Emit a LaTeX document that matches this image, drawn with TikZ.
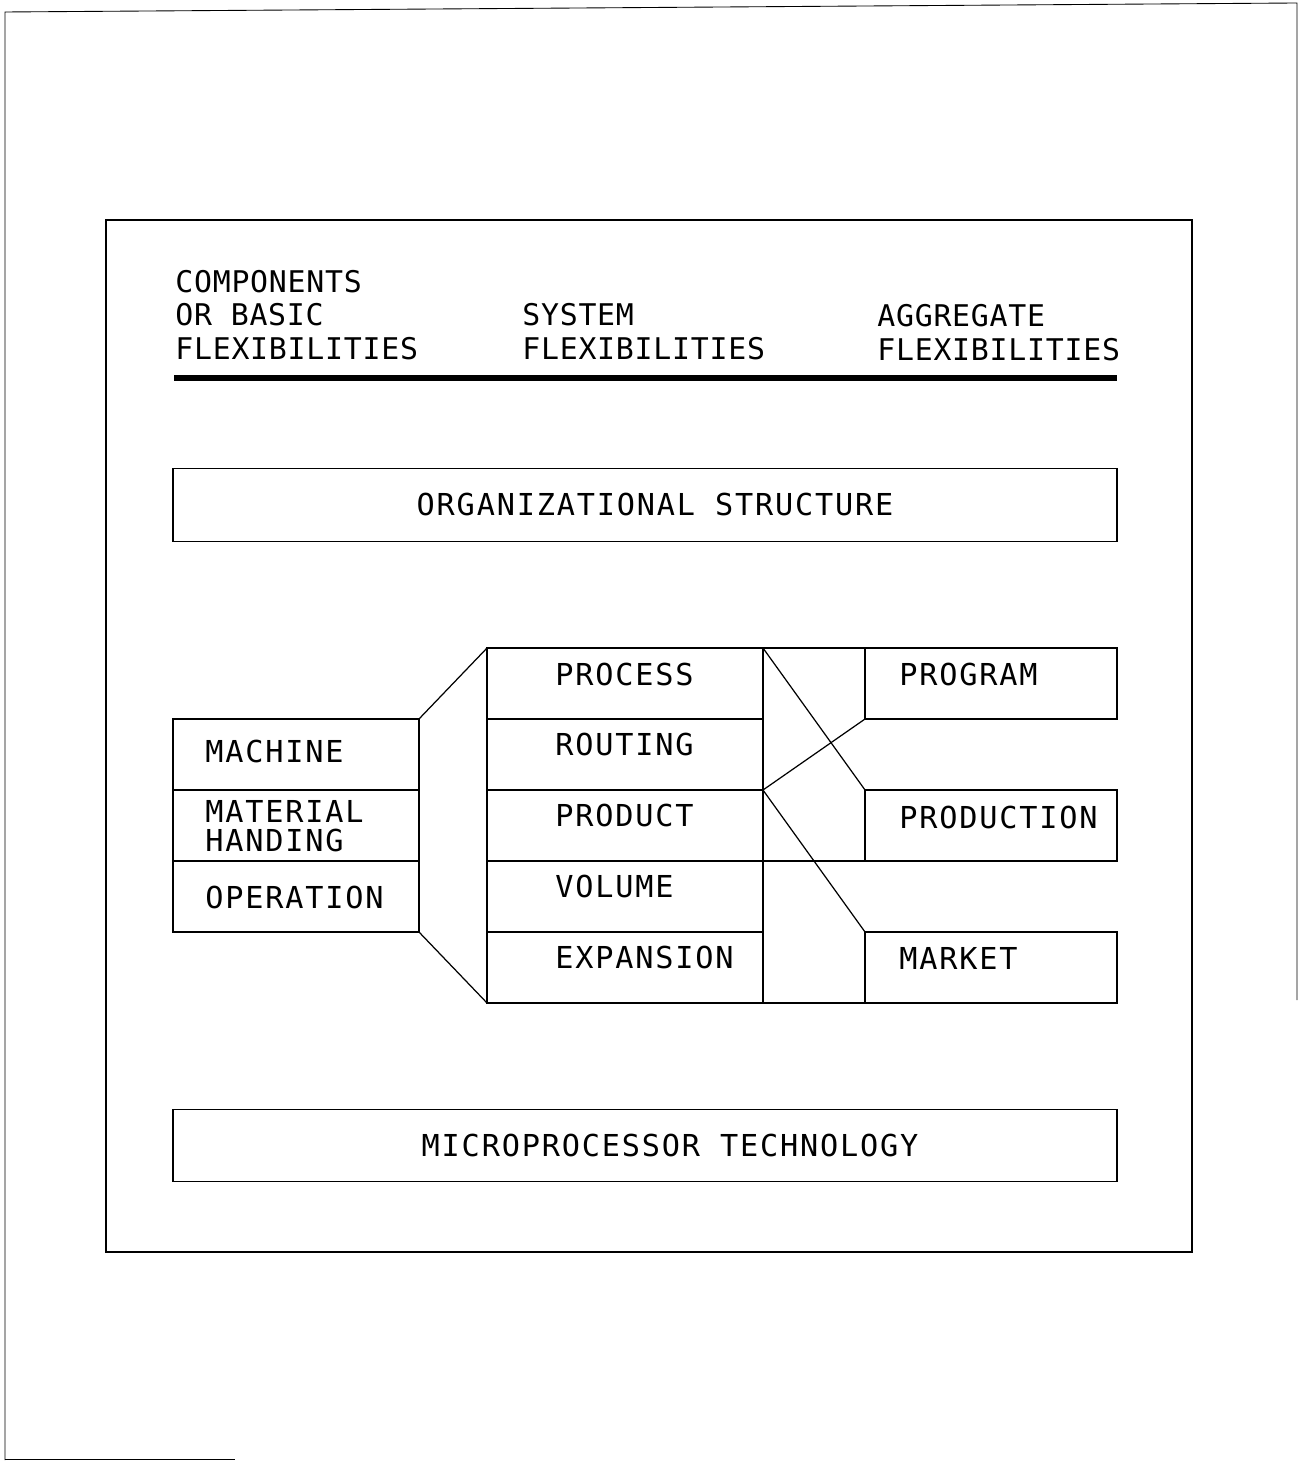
\documentclass[tikz,border=0pt]{standalone}
\usepackage{fontspec}
\newfontfamily\plotfont[LetterSpace=6]{DejaVu Sans Mono}
\newfontfamily\headfont[LetterSpace=2.5]{DejaVu Sans Mono}

\begin{document}
\begin{tikzpicture}[x=0.02cm,y=-0.02cm,
  every node/.style={font=\plotfont\fontsize{17.2}{19.1}\selectfont},
  col/.style={draw,line width=0.7pt,inner sep=0pt,outer sep=0pt,minimum height=1.42cm},
  lbox/.style={col,minimum width=4.92cm},
  mbox/.style={col,minimum width=5.52cm},
  rbox/.style={col,minimum width=5.04cm},
  bar/.style={col,minimum width=18.88cm,minimum height=1.45cm},
  lab/.style={anchor=west,inner sep=0pt,align=left},
  head/.style={anchor=south west,inner sep=0pt,align=left,
    font=\headfont\fontsize{17}{19.1}\selectfont},
  lnk/.style={line width=0.7pt}]

  \useasboundingbox (0,0) rectangle (1300,1462);

  % Sheet edges and frame
  \draw[line width=0.5pt] (5,1460) -- (5,12) -- (1297,3) -- (1297,1000);
  \draw[line width=0.5pt] (5,1459) -- (235,1459);
  \draw[line width=1.1pt] (106,220) rectangle (1192,1252);

  % Header
  \node[head] (hbasic) at (175,360) {COMPONENTS\\OR BASIC\\FLEXIBILITIES};
  \node[head] (hsystem) at (522,360) {SYSTEM\\FLEXIBILITIES};
  \node[head] (haggr) at (877,361) {AGGREGATE\\FLEXIBILITIES};
  \draw[line width=3.4pt] (174,378) -- (1117,378);

  % Top bar
  \node[bar] (org) at (645,505) {};
  \node[lab,anchor=center] (torg) at (655,504) {ORGANIZATIONAL STRUCTURE};

  % Basic flexibilities
  \node[lbox] (machine) at (296,754.5) {};
  \node[lbox] (material) at (296,825.5) {};
  \node[lbox] (operation) at (296,896.5) {};
  \node[lab] (tmachine) at (205,751) {MACHINE};
  \node[lab] (tmaterial) at (205,826) {MATERIAL\\[-2.6pt]HANDING};
  \node[lab] (toperation) at (205,897) {OPERATION};

  % System flexibilities
  \node[mbox] (process) at (625,683.5) {};
  \node[mbox] (routing) at (625,754.5) {};
  \node[mbox] (product) at (625,825.5) {};
  \node[mbox] (volume) at (625,896.5) {};
  \node[mbox] (expansion) at (625,967.5) {};
  \node[lab] (tprocess) at (555,674) {PROCESS};
  \node[lab] (trouting) at (555,744.5) {ROUTING};
  \node[lab] (tproduct) at (555,815.5) {PRODUCT};
  \node[lab] (tvolume) at (555,886.5) {VOLUME};
  \node[lab] (texpansion) at (555,957.5) {EXPANSION};

  % Aggregate flexibilities
  \node[rbox] (program) at (991,683.5) {};
  \node[rbox] (production) at (991,825.5) {};
  \node[rbox] (market) at (991,967.5) {};
  \node[lab] (tprogram) at (899,674) {PROGRAM};
  \node[lab] (tproduction) at (899,817) {PRODUCTION};
  \node[lab] (tmarket) at (899,958) {MARKET};

  % Bottom bar
  \node[bar] (micro) at (645,1145.5) {};
  \node[lab,anchor=center] (tmicro) at (670,1145) {MICROPROCESSOR TECHNOLOGY};

  % Funnel
  \draw[lnk] (machine.north east) -- (process.north west);
  \draw[lnk] (operation.south east) -- (expansion.south west);

  % Rails
  \draw[lnk] (process.north east) -- (program.north west);
  \draw[lnk] (product.south east) -- (production.south west);
  \draw[lnk] (expansion.south east) -- (market.south west);

  % Links
  \draw[lnk] (process.north east) -- (production.north west);
  \draw[lnk] (product.north east) -- (program.south west);
  \draw[lnk] (product.north east) -- (market.north west);

\end{tikzpicture}
\end{document}
